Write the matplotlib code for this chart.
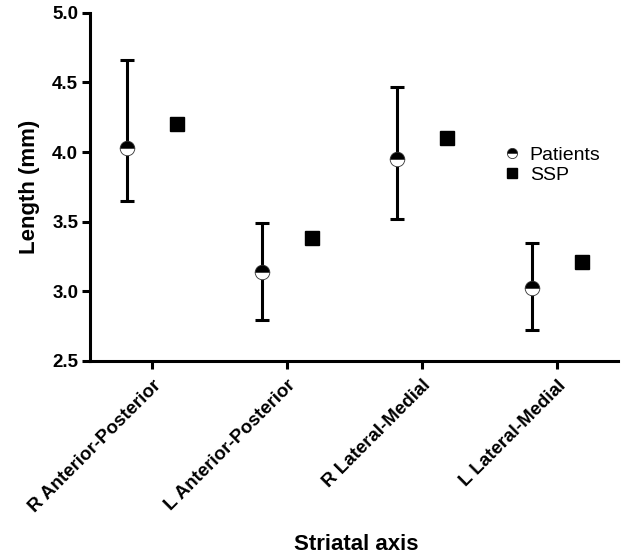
import matplotlib
matplotlib.use("Agg")
import numpy as np
import matplotlib.pyplot as plt

plt.rcParams["font.family"] = ["Liberation Sans", "DejaVu Sans"]

# ========= data =========
axes_names = ["R Anterior-Posterior", "L Anterior-Posterior", "R Lateral-Medial", "L Lateral-Medial"]
patients_mean = [4.03, 3.14, 3.95, 3.02]
patients_low = [3.65, 2.79, 3.52, 2.72]
patients_high = [4.66, 3.49, 4.47, 3.35]
ssp_values = [4.20, 3.38, 4.10, 3.21]
y_ticks = [2.5, 3.0, 3.5, 4.0, 4.5, 5.0]

x = np.arange(len(axes_names))
yerr = [np.array(patients_mean) - np.array(patients_low),
        np.array(patients_high) - np.array(patients_mean)]

fig = plt.figure(figsize=(6.21, 5.56), dpi=100)
ax = fig.add_axes([0.145, 0.351, 0.85, 0.626])

ax.errorbar(x - 0.185, patients_mean, yerr=yerr, fmt="none", ecolor="black",
            elinewidth=2.2, capsize=5, capthick=2.2, zorder=2)
ax.plot(x - 0.185, patients_mean, linestyle="none", marker="o", markersize=10.5,
        fillstyle="top", markerfacecolor="black", markerfacecoloralt="white",
        markeredgecolor="#333333", markeredgewidth=0.6, label="Patients", zorder=3)
ax.plot(x + 0.185, ssp_values, linestyle="none", marker="s", markersize=10,
        color="black", label="SSP", zorder=3)

ax.set_xlim(-0.46, 3.45)
ax.set_ylim(2.5, 5.0)
ax.set_yticks(y_ticks)
ax.set_yticklabels([f"{v:.1f}" for v in y_ticks], fontsize=13.5, fontweight="bold")
ax.set_xticks(x)
ax.set_xticklabels(axes_names, rotation=45, ha="right", rotation_mode="anchor",
                   fontsize=13.5, fontweight="bold")

for s in ["top", "right"]:
    ax.spines[s].set_visible(False)
for s in ["left", "bottom"]:
    ax.spines[s].set_linewidth(2.2)
ax.tick_params(axis="both", width=2.2, length=5.5, direction="out")
ax.tick_params(axis="y", pad=3)
ax.tick_params(axis="x", pad=6)

ax.set_ylabel("Length (mm)", fontsize=16, fontweight="bold", labelpad=9)
fig.text(0.573, 0.01, "Striatal axis", fontsize=16, fontweight="bold", ha="center")

ax.legend(loc="upper left", bbox_to_anchor=(0.765, 0.645), frameon=False,
          fontsize=14, handletextpad=0.45, labelspacing=0.15, borderpad=0,
          handlelength=0.9, markerscale=0.7)

fig.savefig("out.png", dpi=100)
